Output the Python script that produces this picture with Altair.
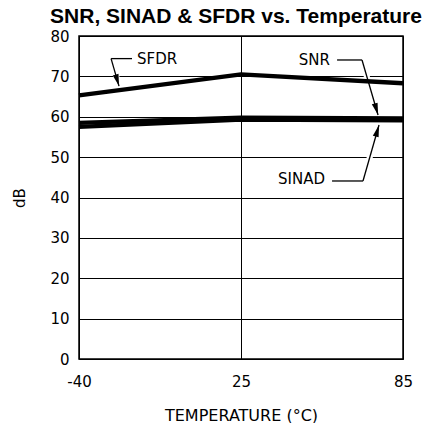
import altair as alt
import pandas as pd

# ---- data ----
temps = ["-40", "25", "85"]          # x categories (equally spaced)
idx = [0, 1, 2]
sfdr = [65.3, 70.5, 68.3]
snr = [58.5, 59.8, 59.6]
sinad = [57.5, 59.3, 59.1]

# annotation leaders (x in category-index units, y in dB)
lead_x = [0.198, 0.198, 1.593, 1.747, 1.562, 1.753]
lead_y = [74.4, 74.4, 74.06, 74.06, 44.09, 44.09]
lead_x2 = [0.327, 0.247, 1.747, 1.846, 1.753, 1.852]
lead_y2 = [74.4, 67.6, 74.06, 60.43, 44.09, 57.96]

label_text = ["SFDR", "SNR", "SINAD"]
label_x = [0.358, 1.549, 1.519]
label_y = [74.2, 74.0, 44.5]
label_align = ["left", "right", "right"]

tip_x = [0.247, 1.846, 1.852]
tip_y = [67.6, 60.43, 57.96]
tip_angle = [163.5, 163.8, 16.0]

rows = []
for name, vals in (("SFDR", sfdr), ("SNR", snr), ("SINAD", sinad)):
    for i, v in zip(idx, vals):
        rows.append({"series": name, "idx": i, "dB": v})
df = pd.DataFrame(rows)

leaders = pd.DataFrame({"x": lead_x, "y": lead_y, "x2": lead_x2, "y2": lead_y2})
labels = pd.DataFrame({"t": label_text, "x": label_x, "y": label_y, "a": label_align})
tips = pd.DataFrame({"x": tip_x, "y": tip_y, "ang": tip_angle})

label_expr = " : ".join(
    f"datum.value == {i} ? '{t}'" for i, t in zip(idx[:-1], temps[:-1])
) + f" : '{temps[-1]}'"

FONT = "DejaVu Sans"

xscale = alt.Scale(domain=[0, 2], nice=False, zero=False)
yscale = alt.Scale(domain=[0, 80], nice=False)

x_axis = alt.Axis(
    values=idx, labelExpr=label_expr, title="TEMPERATURE (°C)",
    grid=True, gridColor="black", gridWidth=1, gridOpacity=1,
    ticks=False, domain=False, labelPadding=15, titlePadding=18,
    labelFont=FONT, labelFontSize=15, labelColor="black",
    titleFont=FONT, titleFontSize=16, titleFontWeight="normal", titleColor="black",
    labelFlush=False,
)
y_axis = alt.Axis(
    values=list(range(0, 81, 10)), title="dB",
    grid=True, gridColor="black", gridWidth=1, gridOpacity=1,
    ticks=False, domain=False, labelPadding=10, titlePadding=22,
    labelFont=FONT, labelFontSize=15, labelColor="black",
    titleFont=FONT, titleFontSize=15, titleFontWeight="normal", titleColor="black",
)

base_lines = alt.Chart(df).mark_line(color="black", strokeWidth=4.3).encode(
    x=alt.X("idx:Q", scale=xscale, axis=x_axis),
    y=alt.Y("dB:Q", scale=yscale, axis=y_axis),
    detail="series:N",
)

halo = alt.Chart(leaders).mark_rule(color="white", strokeWidth=6).encode(
    x=alt.X("x:Q", scale=xscale), y=alt.Y("y:Q", scale=yscale), x2="x2:Q", y2="y2:Q"
)
lead = alt.Chart(leaders).mark_rule(color="black", strokeWidth=1.3).encode(
    x=alt.X("x:Q", scale=xscale), y=alt.Y("y:Q", scale=yscale), x2="x2:Q", y2="y2:Q"
)
arrows = alt.Chart(tips).mark_point(
    shape="M0,0 L1,4 L-1,4 Z", size=36, filled=True, color="black", opacity=1
).encode(
    x=alt.X("x:Q", scale=xscale), y=alt.Y("y:Q", scale=yscale), angle=alt.Angle("ang:Q", scale=None)
)
text_layers = []
for al in ("left", "right"):
    text_layers.append(
        alt.Chart(labels[labels["a"] == al]).mark_text(
            font=FONT, fontSize=15, color="black", baseline="middle", align=al
        ).encode(
            x=alt.X("x:Q", scale=xscale), y=alt.Y("y:Q", scale=yscale), text="t:N",
        )
    )

chart = alt.layer(halo, base_lines, lead, arrows, *text_layers).properties(
    width=324, height=323,
    autosize=alt.AutoSizeParams(type="none"),
    padding={"left": 71, "top": 28, "right": 20, "bottom": 64},
    title=alt.TitleParams(
        "SNR, SINAD & SFDR vs. Temperature", font="Liberation Sans", fontSize=21,
        fontWeight="bold", color="black", anchor="middle", offset=2, dx=-5, frame="group",
    ),
    background="white",
).configure_view(stroke="black", strokeWidth=1.5)

chart.save("out.html", embed_options={"renderer": "svg", "actions": False})
